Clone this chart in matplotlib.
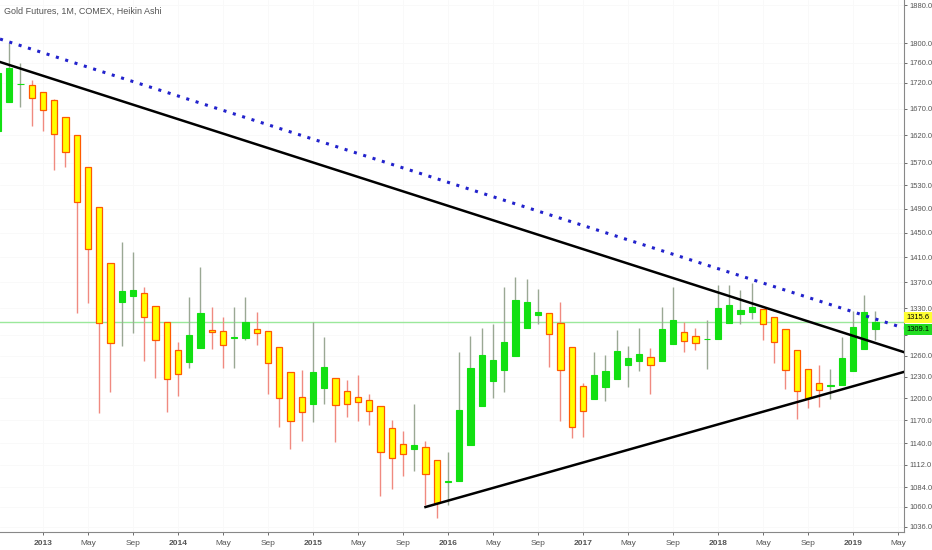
import matplotlib.pyplot as plt
from matplotlib.ticker import FixedLocator, NullLocator

plt.rcParams["font.family"] = ["Liberation Sans", "DejaVu Sans"]

# month index: 0 = Jan 2013 (Sep 2012 .. Mar 2019)
months = list(range(-4, 75))

opens = [1628.0, 1682.9, 1717.5, 1715.9, 1702.3, 1686.8, 1654.4, 1620.7, 1562.6, 1492.9,
         1400.4, 1339.4, 1348.6, 1353.2, 1333.3, 1309.2, 1268.0, 1250.7, 1270.9, 1297.2,
         1295.8, 1286.0, 1285.5, 1298.7, 1295.8, 1272.3, 1236.5, 1201.8, 1192.2, 1214.2,
         1228.1, 1210.0, 1201.8, 1197.6, 1189.5, 1160.0, 1139.0, 1132.5, 1135.1, 1118.4,
         1091.0, 1091.9, 1137.7, 1189.5, 1223.9, 1239.4, 1259.3, 1300.2, 1319.6, 1322.7,
         1307.7, 1272.3, 1216.9, 1199.0, 1215.6, 1226.7, 1246.4, 1252.1, 1257.9, 1252.1,
         1276.7, 1294.3, 1288.4, 1283.6, 1284.0, 1307.7, 1321.2, 1324.2, 1328.7, 1316.7,
         1298.7, 1268.0, 1240.8, 1221.1, 1217.0, 1218.3, 1237.9, 1269.4, 1298.7]
highs = [1740.0, 1800.2, 1759.6, 1725.7, 1702.3, 1688.7, 1654.4, 1620.7, 1562.6, 1492.9,
         1400.4, 1434.4, 1418.1, 1362.5, 1333.3, 1309.2, 1279.6, 1347.1, 1394.0, 1331.8,
         1316.7, 1331.8, 1347.1, 1324.2, 1295.8, 1272.3, 1236.5, 1239.4, 1309.2, 1286.9,
         1228.1, 1225.3, 1232.3, 1205.9, 1189.5, 1170.6, 1156.0, 1192.2, 1142.9, 1118.4,
         1128.6, 1265.1, 1288.4, 1300.2, 1306.2, 1362.5, 1378.2, 1375.0, 1359.4, 1322.7,
         1339.4, 1272.3, 1221.1, 1265.1, 1260.7, 1297.2, 1273.8, 1300.2, 1270.9, 1331.8,
         1362.5, 1309.2, 1300.2, 1312.1, 1365.6, 1365.6, 1357.9, 1368.8, 1328.7, 1316.7,
         1298.7, 1268.0, 1240.8, 1246.4, 1240.8, 1286.9, 1325.7, 1350.1, 1325.7]
lows = [1628.0, 1682.9, 1673.4, 1637.5, 1628.1, 1557.2, 1562.6, 1322.7, 1337.9, 1180.0,
        1208.7, 1273.8, 1292.8, 1252.1, 1228.1, 1181.4, 1203.1, 1242.2, 1270.9, 1269.4,
        1242.2, 1242.2, 1282.5, 1275.2, 1205.9, 1161.3, 1132.5, 1142.9, 1168.0, 1192.2,
        1141.6, 1174.6, 1169.3, 1164.0, 1073.3, 1082.0, 1098.1, 1104.4, 1062.4, 1046.7,
        1062.4, 1091.9, 1137.7, 1189.5, 1200.4, 1208.7, 1259.3, 1300.2, 1306.2, 1243.6,
        1169.3, 1146.8, 1148.1, 1199.0, 1196.3, 1226.7, 1215.6, 1237.9, 1205.9, 1252.1,
        1276.7, 1265.1, 1268.0, 1240.8, 1284.0, 1307.7, 1306.2, 1313.6, 1282.5, 1249.3,
        1212.8, 1172.0, 1186.8, 1188.1, 1199.0, 1218.3, 1237.9, 1269.4, 1282.5]
closes = [1740.0, 1749.5, 1718.0, 1690.6, 1667.6, 1622.6, 1589.6, 1501.4, 1423.0, 1307.7,
          1278.1, 1356.3, 1357.9, 1316.7, 1282.5, 1226.7, 1233.7, 1289.9, 1322.7, 1294.3,
          1275.2, 1286.9, 1309.2, 1292.8, 1249.3, 1200.4, 1169.3, 1181.4, 1236.5, 1243.6,
          1190.8, 1192.2, 1194.9, 1182.7, 1128.6, 1120.9, 1126.1, 1137.7, 1100.6, 1064.8,
          1091.9, 1184.1, 1242.2, 1260.7, 1253.6, 1279.6, 1342.5, 1339.4, 1324.2, 1291.3,
          1239.4, 1161.3, 1182.7, 1232.3, 1237.9, 1266.5, 1256.4, 1262.2, 1246.4, 1298.7,
          1312.1, 1281.1, 1278.1, 1284.0, 1330.2, 1334.8, 1327.2, 1331.8, 1306.2, 1279.6,
          1239.4, 1210.0, 1200.4, 1211.4, 1218.3, 1256.4, 1301.7, 1324.2, 1309.2]

# trend lines (month index, price)
upper_x = [-3.82, 76.49]
upper_y = [1761.6, 1265.1]
lower_x = [34.0, 76.49]
lower_y = [1059.9, 1236.5]
dotted_x = [-3.82, 76.49]
dotted_y = [1808.4, 1300.3]

last_price = 1309.1
prev_price = 1315.6

yticks = [1036, 1060, 1084, 1112, 1140, 1170, 1200, 1230, 1260, 1290, 1330, 1370, 1410,
          1450, 1490, 1530, 1570, 1620, 1670, 1720, 1760, 1800, 1880]
# 1290 sits under the last-price box
ytick_lab = ["" if t == 1290 else f"{t:.1f}" for t in yticks]
xtick_pos = list(range(0, 77, 4))
xtick_lab = ["2013", "May", "Sep", "2014", "May", "Sep", "2015", "May", "Sep", "2016",
             "May", "Sep", "2017", "May", "Sep", "2018", "May", "Sep", "2019", "May"]

GREEN = "#12e012"
YELLOW = "#ffff00"
YEL_EDGE = "#ff5a00"
GREEN_WICK = "#9aa894"
YEL_WICK = "#f08a80"

fig = plt.figure(figsize=(9.32, 5.5), dpi=100)
ax = fig.add_axes([0, 18 / 550, 903.5 / 932, 532 / 550])
ax.set_yscale("log")

up = [c >= o for o, c in zip(opens, closes)]
wick_cols = [GREEN_WICK if u else YEL_WICK for u in up]
ax.vlines(months, lows, highs, colors=wick_cols, lw=1, zorder=2)

for m, o, c, u in zip(months, opens, closes, up):
    lo, hi = min(o, c), max(o, c)
    if u:
        ax.bar(m, hi - lo, bottom=lo, width=0.56, color=GREEN, edgecolor=GREEN,
               lw=0.8, zorder=3)
    else:
        ax.bar(m, hi - lo, bottom=lo, width=0.56, color=YELLOW, edgecolor=YEL_EDGE,
               lw=0.9, zorder=3)

ax.axhline(last_price, color="#9be89b", lw=1, zorder=1)
ax.plot(upper_x, upper_y, color="black", lw=1.8, zorder=4)
ax.plot(lower_x, lower_y, color="black", lw=1.8, zorder=4)
ax.plot(dotted_x, dotted_y, color="#2222cc", lw=2.2, ls=(0, (1, 2.2)), zorder=4)

ax.set_xlim(-3.82, 76.49)
ax.set_ylim(1030.1, 1890.8)

ax.yaxis.tick_right()
ax.yaxis.set_major_locator(FixedLocator(yticks))
ax.yaxis.set_minor_locator(NullLocator())
ax.set_yticklabels(ytick_lab)
ax.set_xticks(xtick_pos)
ax.set_xticklabels(xtick_lab)
for lab in ax.get_xticklabels():
    if lab.get_text().isdigit():
        lab.set_fontweight("bold")
ax.tick_params(axis="both", colors="#555555", length=2.5, width=0.6,
               direction="out")
ax.tick_params(axis="y", labelsize=5.4, pad=1.5)
ax.tick_params(axis="x", labelsize=6, pad=3)

for s in ["top", "left"]:
    ax.spines[s].set_visible(False)
for s in ["right", "bottom"]:
    ax.spines[s].set_color("#888888")
    ax.spines[s].set_linewidth(0.8)

ax.grid(True, color="#f9f9f9", lw=0.6, zorder=0)
ax.set_axisbelow(True)

ax.annotate(f"{prev_price:.1f}", xy=(1.0, prev_price), xycoords=("axes fraction", "data"),
            xytext=(2, 0), textcoords="offset points", fontsize=5.4, va="center",
            ha="left", color="black", annotation_clip=False,
            bbox=dict(boxstyle="square,pad=0.3", fc="#ffff33", ec="none"))
ax.annotate(f"{last_price:.1f}", xy=(1.0, last_price), xycoords=("axes fraction", "data"),
            xytext=(2, -5.5), textcoords="offset points", fontsize=5.4, va="center",
            ha="left", color="black", annotation_clip=False,
            bbox=dict(boxstyle="square,pad=0.3", fc="#22dd22", ec="none"))

fig.text(4 / 932, 1 - 11 / 550, "Gold Futures, 1M, COMEX, Heikin Ashi", fontsize=6.5,
         color="#555555", va="center", ha="left")

fig.savefig("out.png", dpi=100)
